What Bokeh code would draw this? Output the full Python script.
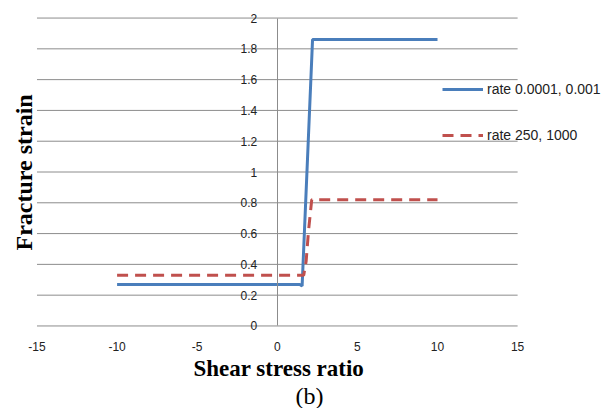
from bokeh.plotting import figure
from bokeh.models import Legend, LegendItem, Title, FixedTicker, ColumnDataSource, Range1d
from bokeh.embed import file_html
from bokeh.resources import INLINE

# ---- data ----
blue_x = [-10, 1.4, 1.55, 2.2, 10]
blue_y = [0.27, 0.27, 0.26, 1.86, 1.86]
red_x = [-10, 1.65, 1.8, 1.95, 2.15, 10]
red_y = [0.33, 0.33, 0.42, 0.62, 0.82, 0.82]
series_names = ["rate 0.0001, 0.001", "rate 250, 1000"]
x_ticks = [-15, -10, -5, 0, 5, 10, 15]
x_tick_labels = ["-15", "-10", "-5", "0", "5", "10", "15"]
y_ticks = [0, 0.2, 0.4, 0.6, 0.8, 1.0, 1.2, 1.4, 1.6, 1.8, 2.0]
y_tick_labels = ["0", "0.2", "0.4", "0.6", "0.8", "1", "1.2", "1.4", "1.6", "1.8", "2"]
x_title = "Shear stress ratio"
y_title = "Fracture strain"
caption = "(b)"

BLUE = "#4A7EBB"
RED = "#C0504D"
GRID = "#8C8C8C"
SANS = "Liberation Sans"
SERIF = "Liberation Serif"

p = figure(width=611, height=408,
           x_range=Range1d(-15.03, 20.86), y_range=Range1d(-0.049, 2.088),
           output_backend="svg", toolbar_location=None,
           min_border_left=36, min_border_right=0, min_border_top=4,
           min_border_bottom=75)
p.outline_line_color = None
p.background_fill_color = "white"
p.border_fill_color = "white"
p.xgrid.visible = False
p.ygrid.visible = False

# horizontal gridlines spanning the x tick extent
n = len(y_ticks)
p.segment(x0=[x_ticks[0]] * n, x1=[x_ticks[-1]] * n, y0=y_ticks, y1=y_ticks,
          line_color=GRID, line_width=1)

# x axis
xa = p.xaxis[0]
xa.ticker = FixedTicker(ticks=x_ticks)
xa.major_label_overrides = {t: l for t, l in zip(x_ticks, x_tick_labels)}
xa.axis_line_color = None
xa.major_tick_line_color = None
xa.minor_tick_line_color = None
xa.major_label_standoff = 2
xa.major_label_text_font = SANS
xa.major_label_text_font_size = "12px"
xa.major_label_text_color = "#222222"

# y axis crossing at x = 0
ya = p.yaxis[0]
ya.fixed_location = 0
ya.bounds = (y_ticks[0], y_ticks[-1])
ya.ticker = FixedTicker(ticks=y_ticks)
ya.major_label_overrides = {t: l for t, l in zip(y_ticks, y_tick_labels)}
ya.axis_line_color = GRID
ya.major_tick_line_color = None
ya.minor_tick_line_color = None
ya.major_label_standoff = 14
ya.major_label_text_font = SANS
ya.major_label_text_font_size = "12px"
ya.major_label_text_color = "#222222"

p.add_layout(Title(text=y_title, align="left", offset=83, text_font=SERIF,
                   text_font_style="bold", text_font_size="24px",
                   text_color="black", standoff=0), "left")
p.add_layout(Title(text=x_title, align="left", offset=157, text_font=SERIF,
                   text_font_style="bold", text_font_size="23px",
                   text_color="black", standoff=0), "below")
p.add_layout(Title(text=caption, align="left", offset=259, text_font=SERIF,
                   text_font_style="normal", text_font_size="24px",
                   text_color="black", standoff=0), "below")

src_b = ColumnDataSource(dict(x=blue_x, y=blue_y))
src_r = ColumnDataSource(dict(x=red_x, y=red_y))
r1 = p.line("x", "y", source=src_b, line_color=BLUE, line_width=3)
r2 = p.line("x", "y", source=src_r, line_color=RED, line_width=3, line_dash="11 7")

legend = Legend(items=[LegendItem(label=series_names[0], renderers=[r1]),
                       LegendItem(label=series_names[1], renderers=[r2])],
                location=(406, 188), background_fill_alpha=0,
                border_line_color=None, padding=0, margin=0, spacing=26,
                glyph_height=20, glyph_width=41, label_height=20,
                label_standoff=4, label_text_font=SANS,
                label_text_font_size="14px", label_text_color="#222222")
p.add_layout(legend)

open("out.html", "w").write(file_html(p, INLINE))
